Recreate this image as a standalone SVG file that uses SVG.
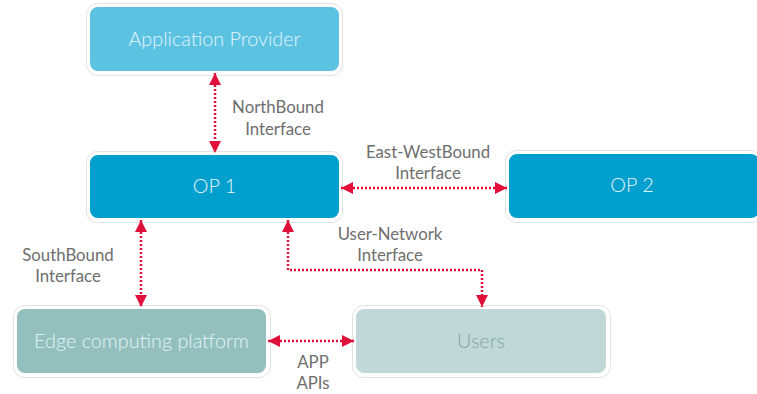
<svg xmlns="http://www.w3.org/2000/svg" width="757" height="394" viewBox="0 0 757 394">
<style>
.box{stroke:#ffffff;stroke-width:2}
.halo{fill:none;stroke:#e2e2e2;stroke-width:1}
.bt{font-family:Lato,"Open Sans","Liberation Sans",sans-serif;font-weight:300;font-size:19.8px;fill:#e3f4fa;text-anchor:middle}
.lbl{font-family:Lato,"Open Sans","Liberation Sans",sans-serif;font-size:16.8px;fill:#6e6e6e;text-anchor:middle}
.c{fill:none;stroke:#e0103a;stroke-width:2.5;stroke-dasharray:2 2}
</style>
<defs>
<marker id="ah" viewBox="0 0 10 10" refX="10" refY="5" markerWidth="4.8" markerHeight="4.8" orient="auto-start-reverse" markerUnits="strokeWidth">
<path d="M0,0 L10,5 L0,10 Z" fill="#e0103a"/>
</marker>
</defs>
<rect width="757" height="394" fill="#ffffff"/>
<g id="app-provider">
<rect class="halo" x="86.5" y="3.5" width="256" height="72" rx="11"/>
<rect class="box" x="89" y="6" width="251" height="66" rx="9" fill="#5bc2e2"/>
<text class="bt" x="214.5" y="46">Application Provider</text>
</g>
<g id="op1">
<rect class="halo" x="86.5" y="151.5" width="256" height="71" rx="11"/>
<rect class="box" x="89" y="154" width="251" height="65" rx="9" fill="#009fcd"/>
<text class="bt" x="214.5" y="193">OP 1</text>
</g>
<g id="op2">
<rect class="halo" x="505.5" y="150.5" width="256" height="72" rx="11"/>
<rect class="box" x="508" y="153" width="252" height="66" rx="9" fill="#009fcd"/>
<text class="bt" x="632" y="192">OP 2</text>
</g>
<g id="edge">
<rect class="halo" x="13.5" y="305.5" width="257" height="72" rx="11"/>
<rect class="box" x="16" y="308" width="251" height="66" rx="9" fill="#93bfbc"/>
<text class="bt" x="141.5" y="348">Edge computing platform</text>
</g>
<g id="users">
<rect class="halo" x="352.5" y="305.5" width="258" height="72" rx="11"/>
<rect class="box" x="355" y="308" width="252" height="66" rx="9" fill="#c0d9d8"/>
<text class="bt" x="481" y="348" style="fill:#86a3a2">Users</text>
</g>
<g id="connectors">
<line class="c" x1="215" y1="73" x2="215" y2="153" marker-start="url(#ah)" marker-end="url(#ah)"/>
<line class="c" x1="341" y1="188" x2="507" y2="188" marker-start="url(#ah)" marker-end="url(#ah)"/>
<line class="c" x1="141" y1="220" x2="141" y2="307" marker-start="url(#ah)" marker-end="url(#ah)"/>
<polyline class="c" points="288,220 288,270 482,270 482,307" marker-start="url(#ah)" marker-end="url(#ah)"/>
<line class="c" x1="268" y1="341" x2="354" y2="341" marker-start="url(#ah)" marker-end="url(#ah)"/>
</g>
<g id="labels">
<text class="lbl" x="278" y="113">NorthBound</text>
<text class="lbl" x="278" y="135">Interface</text>
<text class="lbl" x="428" y="158">East-WestBound</text>
<text class="lbl" x="428" y="179">Interface</text>
<text class="lbl" x="390" y="240">User-Network</text>
<text class="lbl" x="390" y="261">Interface</text>
<text class="lbl" x="68" y="261">SouthBound</text>
<text class="lbl" x="68" y="282">Interface</text>
<text class="lbl" x="313" y="368">APP</text>
<text class="lbl" x="313" y="389">APIs</text>
</g>
</svg>
